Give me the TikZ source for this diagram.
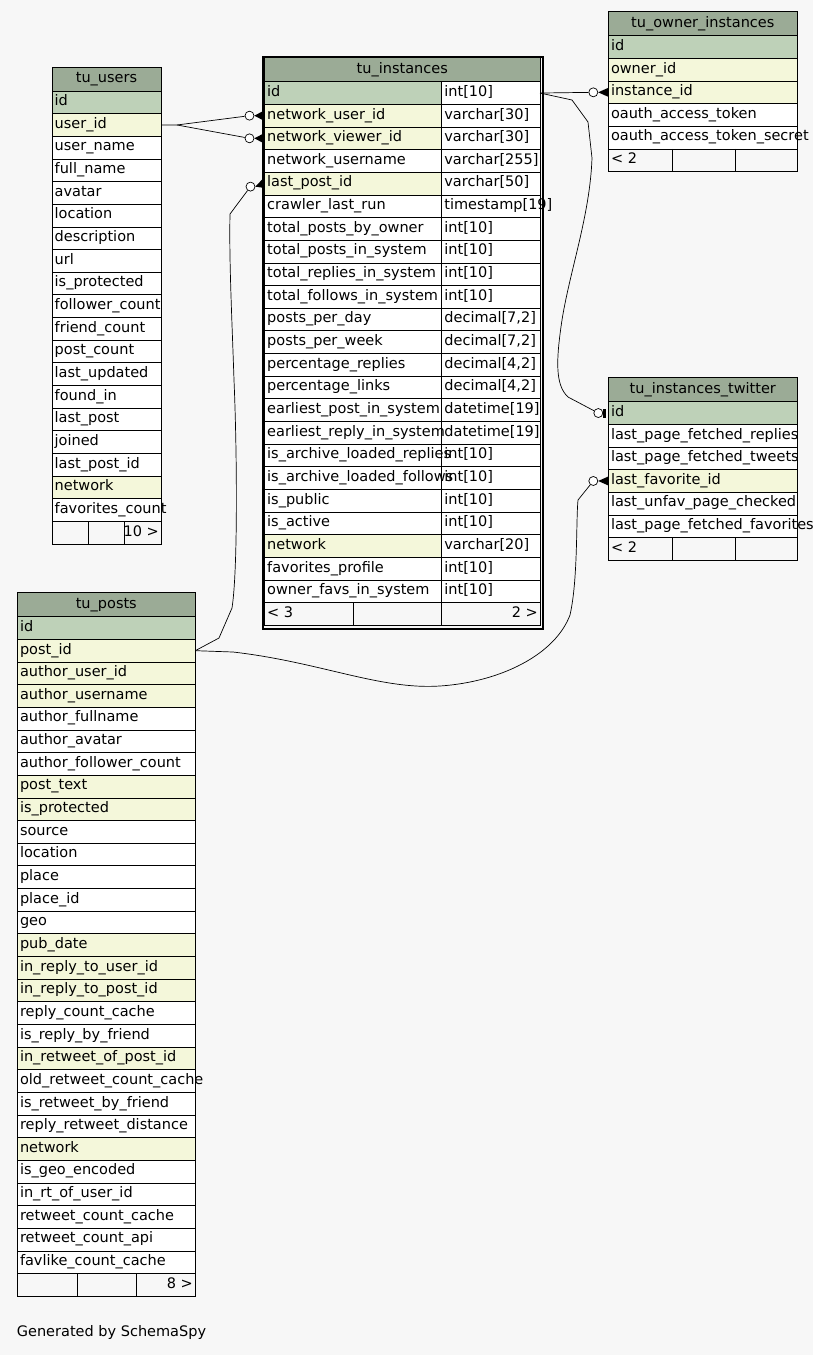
\documentclass[tikz,border=0pt]{standalone}
\usepackage{fontspec}
\setmainfont{DejaVu Sans}
\definecolor{pagebg}{HTML}{F7F7F7}
\definecolor{headbg}{HTML}{9BAB96}
\definecolor{pk}{HTML}{BED1B8}
\definecolor{ix}{HTML}{F4F7DA}
\tikzset{
  cell/.style={draw, line width=0.8pt, inner sep=0pt, outer sep=0pt, anchor=north west, minimum height=22.65pt},
  head/.style={cell, fill=headbg, minimum height=24pt},
  field/.style={inner sep=0pt, anchor=base west},
  title/.style={inner sep=0pt, anchor=base},
  odot/.style={circle, draw, fill=white, line width=0.7pt, minimum size=9pt, inner sep=0pt},
  rel/.style={line width=0.7pt},
  frame/.style={line width=0.8pt}
}

\begin{document}
\begin{tikzpicture}[x=1pt,y=-1pt,font=\fontsize{14.5}{16}\selectfont]
  \fill[pagebg] (0,0) rectangle (813,1355);
  \useasboundingbox (0,0) rectangle (813,1355);

  % tu_users
  \node[head, minimum width=109pt] (users-h) at (52,67) {};
  \node[title] (users-ht) at ([yshift=8.5pt]users-h.south) {tu\_users};
  \foreach \fld/\fc [count=\i] in {id/pk, user\_id/ix, user\_name/white, full\_name/white, avatar/white,
      location/white, description/white, url/white, is\_protected/white, follower\_count/white,
      friend\_count/white, post\_count/white, last\_updated/white, found\_in/white, last\_post/white,
      joined/white, last\_post\_id/white, network/ix, favorites\_count/white}{
    \node[cell, fill=\fc, minimum width=109pt] (users-\i) at (52,{91+(\i-1)*22.65}) {};
    \node[field] (users-\i-t) at ([xshift=2.5pt,yshift=8pt]users-\i.south west) {\fld};
  }
  \draw[frame] (52,521.35) rectangle (161,544) (88.5,521.35) -- (88.5,544) (124.5,521.35) -- (124.5,544);
  \node[field, anchor=base east] (users-f) at (159,536) {10 >};

  % tu_instances
  \node[draw, line width=2pt, minimum width=280.8pt, minimum height=572.3pt, anchor=north west, inner sep=0pt] (instances-box) at (261.5,55.7) {};
  \node[head, minimum width=275.5pt] (instances-h) at (264.5,57.7) {};
  \node[title] (instances-ht) at ([yshift=8.5pt]instances-h.south) {tu\_instances};
  \foreach \fld/\ty/\fc [count=\i] in {id/int[10]/pk, network\_user\_id/varchar[30]/ix,
      network\_viewer\_id/varchar[30]/ix, network\_username/varchar[255]/white,
      last\_post\_id/varchar[50]/ix, crawler\_last\_run/timestamp[19]/white,
      total\_posts\_by\_owner/int[10]/white, total\_posts\_in\_system/int[10]/white,
      total\_replies\_in\_system/int[10]/white, total\_follows\_in\_system/int[10]/white,
      posts\_per\_day/{decimal[7,2]}/white, posts\_per\_week/{decimal[7,2]}/white,
      percentage\_replies/{decimal[4,2]}/white, percentage\_links/{decimal[4,2]}/white,
      earliest\_post\_in\_system/datetime[19]/white, earliest\_reply\_in\_system/datetime[19]/white,
      is\_archive\_loaded\_replies/int[10]/white, is\_archive\_loaded\_follows/int[10]/white,
      is\_public/int[10]/white, is\_active/int[10]/white, network/varchar[20]/ix,
      favorites\_profile/int[10]/white, owner\_favs\_in\_system/int[10]/white}{
    \node[cell, fill=\fc, minimum width=177.2pt] (instances-\i) at (264.5,{81.7+(\i-1)*22.65}) {};
    \node[cell, fill=white, minimum width=98.3pt] (instances-\i-ty) at (instances-\i.north east) {};
    \node[field] (instances-\i-t) at ([xshift=2.5pt,yshift=8pt]instances-\i.south west) {\fld};
    \node[field] (instances-\i-tt) at ([xshift=2.5pt,yshift=8pt]instances-\i-ty.south west) {\ty};
  }
  \draw[frame] (264.5,602.65) rectangle (540,625.3) (353.5,602.65) -- (353.5,625.3) (441.7,602.65) -- (441.7,625.3);
  \node[field] (instances-fl) at (267,617.3) {< 3};
  \node[field, anchor=base east] (instances-fr) at (538,617.3) {2 >};

  % tu_owner_instances
  \node[head, minimum width=189pt] (owner-h) at (608.3,11.7) {};
  \node[title] (owner-ht) at ([yshift=8.5pt]owner-h.south) {tu\_owner\_instances};
  \foreach \fld/\fc [count=\i] in {id/pk, owner\_id/ix, instance\_id/ix, oauth\_access\_token/white,
      oauth\_access\_token\_secret/white}{
    \node[cell, fill=\fc, minimum width=189pt] (owner-\i) at (608.3,{35.7+(\i-1)*22.65}) {};
    \node[field] (owner-\i-t) at ([xshift=2.5pt,yshift=8pt]owner-\i.south west) {\fld};
  }
  \draw[frame] (608.3,148.95) rectangle (797.3,171.6) (672.7,148.95) -- (672.7,171.6) (735.5,148.95) -- (735.5,171.6);
  \node[field] (owner-f) at (611,163.6) {< 2};

  % tu_instances_twitter
  \node[head, minimum width=189pt] (twitter-h) at (608.3,377.7) {};
  \node[title] (twitter-ht) at ([yshift=8.5pt]twitter-h.south) {tu\_instances\_twitter};
  \foreach \fld/\fc [count=\i] in {id/pk, last\_page\_fetched\_replies/white, last\_page\_fetched\_tweets/white,
      last\_favorite\_id/ix, last\_unfav\_page\_checked/white, last\_page\_fetched\_favorites/white}{
    \node[cell, fill=\fc, minimum width=189pt] (twitter-\i) at (608.3,{401.7+(\i-1)*22.65}) {};
    \node[field] (twitter-\i-t) at ([xshift=2.5pt,yshift=8pt]twitter-\i.south west) {\fld};
  }
  \draw[frame] (608.3,537.6) rectangle (797.3,560.25) (672.7,537.6) -- (672.7,560.25) (735.5,537.6) -- (735.5,560.25);
  \node[field] (twitter-f) at (611,552.25) {< 2};

  % tu_posts
  \node[head, minimum width=178pt] (posts-h) at (17.3,592.7) {};
  \node[title] (posts-ht) at ([yshift=8.5pt]posts-h.south) {tu\_posts};
  \foreach \fld/\fc [count=\i] in {id/pk, post\_id/ix, author\_user\_id/ix, author\_username/ix,
      author\_fullname/white, author\_avatar/white, author\_follower\_count/white, post\_text/ix,
      is\_protected/ix, source/white, location/white, place/white, place\_id/white, geo/white,
      pub\_date/ix, in\_reply\_to\_user\_id/ix, in\_reply\_to\_post\_id/ix, reply\_count\_cache/white,
      is\_reply\_by\_friend/white, in\_retweet\_of\_post\_id/ix, old\_retweet\_count\_cache/white,
      is\_retweet\_by\_friend/white, reply\_retweet\_distance/white, network/ix, is\_geo\_encoded/white,
      in\_rt\_of\_user\_id/white, retweet\_count\_cache/white, retweet\_count\_api/white,
      favlike\_count\_cache/white}{
    \node[cell, fill=\fc, minimum width=178pt] (posts-\i) at (17.3,{616.7+(\i-1)*22.65}) {};
    \node[field] (posts-\i-t) at ([xshift=2.5pt,yshift=8pt]posts-\i.south west) {\fld};
  }
  \draw[frame] (17.3,1273.55) rectangle (195.3,1296.2) (77.3,1273.55) -- (77.3,1296.2) (136.3,1273.55) -- (136.3,1296.2);
  \node[field, anchor=base east] (posts-f) at (193,1288.2) {8 >};

  % relations
  \coordinate (fork) at ([xshift=16pt]users-2.east);
  \node[odot] (m1) at ([xshift=-15pt]instances-2.west) {};
  \node[odot] (m2) at ([xshift=-15pt]instances-3.west) {};
  \node[odot] (m3) at ([xshift=-14pt,yshift=-3pt]instances-5.west) {};
  \node[odot] (m4) at ([xshift=-15pt]twitter-4.west) {};
  \node[odot] (m5) at ([xshift=-15pt]owner-3.west) {};
  \node[odot] (m6) at ([xshift=-10pt]twitter-1.west) {};
  \draw[rel] (users-2.east) -- (fork) -- (m1);
  \draw[rel] (fork) -- (m2);
  \draw[rel] (posts-2.east) -- (219,638) -- (232,608) .. controls (238,570) and (237,450) .. (234,380)
    .. controls (232,320) and (229,260) .. (230,214) -- (m3);
  \draw[rel] (posts-2.east) -- (233,652) .. controls (320,662) and (380,690) .. (440,686)
    .. controls (500,682) and (555,655) .. (570,615) .. controls (578,580) and (576,520) .. (578,500) -- (m4);
  \draw[rel] (instances-1-ty.east) -- (m5);
  \draw[rel] (instances-1-ty.east) -- (572,100) -- (588,122) -- (592,158) .. controls (590,215) and (570,270) .. (562,320)
    .. controls (556,360) and (555,385) .. (568,397) -- (m6);
  \fill (m1.east) -- ([xshift=-2.5pt,yshift=4pt]instances-2.west) -- ([xshift=-2.5pt,yshift=-4pt]instances-2.west) -- cycle;
  \fill (m2.east) -- ([xshift=-2.5pt,yshift=4pt]instances-3.west) -- ([xshift=-2.5pt,yshift=-4pt]instances-3.west) -- cycle;
  \fill (m3.east) -- ([xshift=-2.5pt,yshift=4pt]instances-5.west) -- ([xshift=-2.5pt,yshift=-4pt]instances-5.west) -- cycle;
  \fill (m4.east) -- ([yshift=4.5pt]twitter-4.west) -- ([yshift=-4.5pt]twitter-4.west) -- cycle;
  \fill (m5.east) -- ([yshift=4.5pt]owner-3.west) -- ([yshift=-4.5pt]owner-3.west) -- cycle;
  \fill ([xshift=-5pt,yshift=-4.5pt]twitter-1.west) rectangle ([xshift=-2pt,yshift=4.5pt]twitter-1.west);

  \node[field] (credit) at (16.7,1336.7) {Generated by SchemaSpy};
\end{tikzpicture}
\end{document}
